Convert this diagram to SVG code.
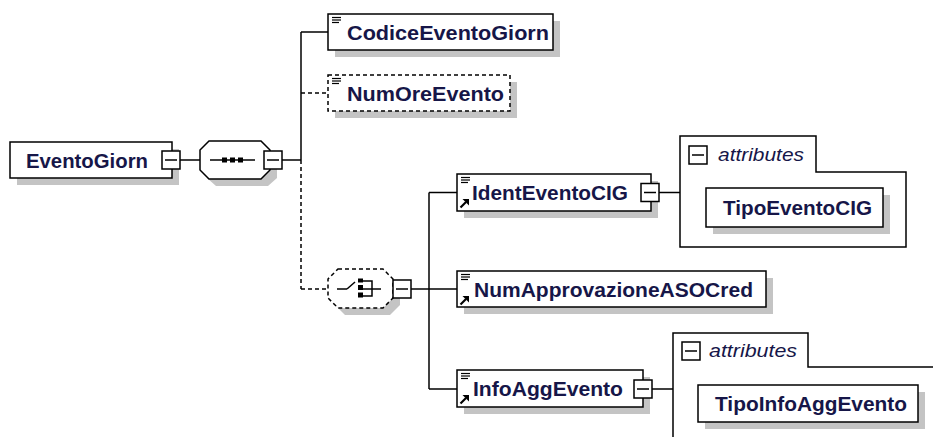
<svg xmlns="http://www.w3.org/2000/svg" width="933" height="437" viewBox="0 0 933 437">
<defs>
<style>
.bx{fill:#fff;stroke:#000;stroke-width:1.5}
.dbx{fill:#fff;stroke:#000;stroke-width:1.5;stroke-dasharray:4 3}
.sh{fill:#c4c4c4;stroke:none}
.ln{fill:none;stroke:#000;stroke-width:1.5}
.dl{fill:none;stroke:#000;stroke-width:1.5;stroke-dasharray:4 3}
.t{font-family:"Liberation Sans",Arial,sans-serif;font-weight:bold;font-size:21px;fill:#161648}
.a{font-family:"Liberation Sans",Arial,sans-serif;font-style:italic;font-size:18px;fill:#161648}
.ic{stroke:#000;stroke-width:1.2}
</style>
<g id="lines-icon">
<line class="ic" x1="0" y1="0.5" x2="9" y2="0.5"/>
<line class="ic" x1="0" y1="3" x2="9" y2="3"/>
<line class="ic" x1="0" y1="5.5" x2="7" y2="5.5"/>
</g>
<g id="ref-icon">
<line x1="0.5" y1="8.5" x2="6" y2="3" stroke="#000" stroke-width="2.2"/>
<polygon points="2.5,0 9,0 9,6.5" fill="#000"/>
</g>
<g id="minus">
<rect x="0" y="0" width="18" height="18" class="bx"/>
<line x1="3" y1="9" x2="15" y2="9" class="ln"/>
</g>
</defs>
<rect width="933" height="437" fill="#fff"/>

<g id="connectors">
<line class="ln" x1="180" y1="160" x2="200" y2="160"/>
<line class="ln" x1="282" y1="160" x2="301" y2="160"/>
<line class="ln" x1="301" y1="32" x2="301" y2="160"/>
<line class="ln" x1="301" y1="32" x2="328" y2="32"/>
<line class="dl" x1="301" y1="93" x2="328" y2="93"/>
<line class="dl" x1="301" y1="160" x2="301" y2="289"/>
<line class="dl" x1="301" y1="289" x2="330" y2="289"/>
<line class="ln" x1="411" y1="289" x2="429" y2="289"/>
<line class="ln" x1="429" y1="192.5" x2="429" y2="389"/>
<line class="ln" x1="429" y1="192.5" x2="457" y2="192.5"/>
<line class="ln" x1="429" y1="289" x2="457" y2="289"/>
<line class="ln" x1="429" y1="389" x2="457" y2="389"/>
<line class="ln" x1="659" y1="192.5" x2="680" y2="192.5"/>
<line class="ln" x1="652" y1="389" x2="673" y2="389"/>
</g>

<g id="EventoGiorn">
<rect class="sh" x="17" y="149" width="162" height="36"/>
<rect class="bx" x="10" y="142" width="162" height="36"/>
<text class="t" x="26" y="167.5" textLength="122" lengthAdjust="spacingAndGlyphs">EventoGiorn</text>
<use href="#minus" x="162" y="151"/>
</g>

<g id="sequence">
<polygon class="sh" points="216,148 268,148 277,157 277,178 268,186 216,186 207,178 207,157"/>
<polygon class="bx" points="209,141 261,141 270,150 270,170 261,179 209,179 200,170 200,150"/>
<line class="ln" x1="210" y1="160" x2="255" y2="160"/>
<rect x="222" y="157.5" width="5" height="5" fill="#000"/>
<rect x="230" y="157.5" width="5" height="5" fill="#000"/>
<rect x="238" y="157.5" width="5" height="5" fill="#000"/>
<use href="#minus" x="264" y="151"/>
</g>

<g id="CodiceEventoGiorn">
<rect class="sh" x="335" y="21" width="225" height="36"/>
<rect class="bx" x="328" y="14" width="225" height="36"/>
<use href="#lines-icon" x="332" y="17"/>
<text class="t" x="347" y="39.5" textLength="202" lengthAdjust="spacingAndGlyphs">CodiceEventoGiorn</text>
</g>

<g id="NumOreEvento">
<rect class="sh" x="335" y="82" width="182" height="36"/>
<rect class="dbx" x="328" y="75" width="182" height="36"/>
<use href="#lines-icon" x="332" y="78"/>
<text class="t" x="347" y="100.5" textLength="157" lengthAdjust="spacingAndGlyphs">NumOreEvento</text>
</g>

<g id="choice">
<polygon class="sh" points="345,276 390,276 400,286 400,305 390,315 345,315 335,305 335,286"/>
<polygon class="dbx" points="338,269 383,269 393,279 393,298 383,308 338,308 328,298 328,279"/>
<line class="ln" x1="337" y1="289" x2="347" y2="289"/>
<line class="ln" x1="347" y1="289" x2="355" y2="282"/>
<rect x="358" y="278.5" width="5" height="4" fill="#000"/>
<rect x="358" y="285" width="5" height="5" fill="#000"/>
<rect x="358" y="292.5" width="5" height="5" fill="#000"/>
<polyline class="ln" points="363,281 372,281 372,296 363,296"/>
<line class="ln" x1="363" y1="289" x2="381" y2="289"/>
<use href="#minus" x="393" y="280"/>
</g>

<g id="IdentEventoCIG">
<rect class="sh" x="464" y="181" width="194" height="37"/>
<rect class="bx" x="457" y="174" width="194" height="37"/>
<use href="#lines-icon" x="461" y="177"/>
<use href="#ref-icon" x="460" y="199"/>
<text class="t" x="472" y="200" textLength="156" lengthAdjust="spacingAndGlyphs">IdentEventoCIG</text>
<use href="#minus" x="641" y="183.5"/>
</g>

<g id="attributes1">
<path class="ln" d="M680,136 H816 V172 H906 V247 H680 Z"/>
<use href="#minus" x="689" y="146"/>
<text class="a" x="718" y="161" textLength="86" lengthAdjust="spacingAndGlyphs">attributes</text>
</g>

<g id="TipoEventoCIG">
<rect class="sh" x="713" y="195" width="177" height="39"/>
<rect class="bx" x="706" y="188" width="177" height="39"/>
<text class="t" x="723" y="215" textLength="149" lengthAdjust="spacingAndGlyphs">TipoEventoCIG</text>
</g>

<g id="NumApprovazioneASOCred">
<rect class="sh" x="464" y="278" width="309" height="36"/>
<rect class="bx" x="457" y="271" width="309" height="36"/>
<use href="#lines-icon" x="461" y="274"/>
<use href="#ref-icon" x="460" y="296"/>
<text class="t" x="474" y="296.5" textLength="279" lengthAdjust="spacingAndGlyphs">NumApprovazioneASOCred</text>
</g>

<g id="InfoAggEvento">
<rect class="sh" x="464" y="377" width="186" height="37"/>
<rect class="bx" x="457" y="370" width="186" height="37"/>
<use href="#lines-icon" x="461" y="373"/>
<use href="#ref-icon" x="460" y="395"/>
<text class="t" x="473" y="396" textLength="150" lengthAdjust="spacingAndGlyphs">InfoAggEvento</text>
<use href="#minus" x="634" y="380"/>
</g>

<g id="attributes2">
<path class="ln" d="M673,440 V333 H808 V367 H940"/>
<use href="#minus" x="682" y="342"/>
<text class="a" x="709" y="357" textLength="88" lengthAdjust="spacingAndGlyphs">attributes</text>
</g>

<g id="TipoInfoAggEvento">
<rect class="sh" x="705" y="392" width="220" height="37"/>
<rect class="bx" x="698" y="385" width="220" height="37"/>
<text class="t" x="715" y="410.5" textLength="192" lengthAdjust="spacingAndGlyphs">TipoInfoAggEvento</text>
</g>
</svg>
